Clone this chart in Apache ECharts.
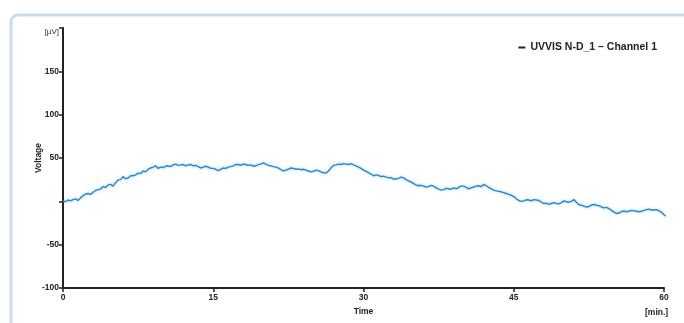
<!DOCTYPE html>
<html>
<head>
<meta charset="utf-8">
<script src="https://cdn.jsdelivr.net/npm/echarts@6/dist/echarts.min.js"></script>
<style>
html,body{margin:0;padding:0;background:#fff;}
#c{width:684px;height:323px;}
</style>
</head>
<body>
<div id="c"></div>
<script>
var seriesName = 'UVVIS N-D_1 \u2013 Channel 1';
var timeMin = [0,0.25,0.5,0.75,1,1.25,1.5,1.75,2,2.25,2.5,2.75,3,3.25,3.5,3.75,4,4.25,4.5,4.75,5,5.25,5.5,5.75,6,6.25,6.5,6.75,7,7.25,7.5,7.75,8,8.25,8.5,8.75,9,9.25,9.5,9.75,10,10.25,10.5,10.75,11,11.25,11.5,11.75,12,12.25,12.5,12.75,13,13.25,13.5,13.75,14,14.25,14.5,14.75,15,15.25,15.5,15.75,16,16.25,16.5,16.75,17,17.25,17.5,17.75,18,18.25,18.5,18.75,19,19.25,19.5,19.75,20,20.25,20.5,20.75,21,21.25,21.5,21.75,22,22.25,22.5,22.75,23,23.25,23.5,23.75,24,24.25,24.5,24.75,25,25.25,25.5,25.75,26,26.25,26.5,26.75,27,27.25,27.5,27.75,28,28.25,28.5,28.75,29,29.25,29.5,29.75,30,30.25,30.5,30.75,31,31.25,31.5,31.75,32,32.25,32.5,32.75,33,33.25,33.5,33.75,34,34.25,34.5,34.75,35,35.25,35.5,35.75,36,36.25,36.5,36.75,37,37.25,37.5,37.75,38,38.25,38.5,38.75,39,39.25,39.5,39.75,40,40.25,40.5,40.75,41,41.25,41.5,41.75,42,42.25,42.5,42.75,43,43.25,43.5,43.75,44,44.25,44.5,44.75,45,45.25,45.5,45.75,46,46.25,46.5,46.75,47,47.25,47.5,47.75,48,48.25,48.5,48.75,49,49.25,49.5,49.75,50,50.25,50.5,50.75,51,51.25,51.5,51.75,52,52.25,52.5,52.75,53,53.25,53.5,53.75,54,54.25,54.5,54.75,55,55.25,55.5,55.75,56,56.25,56.5,56.75,57,57.25,57.5,57.75,58,58.25,58.5,58.75,59,59.25,59.5,59.75,60,60.2];
var voltage = [0.5,-0.5,1.5,0.5,2.0,2.8,1.0,4.0,6.5,8.5,9.0,8.0,10.5,12.5,13.5,14.0,17.0,16.0,19.0,19.5,17.5,21.5,24.5,25.0,28.5,26.0,27.0,29.5,29.5,30.5,32.5,32.0,35.0,34.0,37.0,38.5,39.5,41.0,38.0,39.5,39.0,40.5,41.0,40.0,42.0,43.0,41.5,42.0,42.5,41.0,42.0,42.5,41.0,41.5,40.0,38.5,39.5,40.5,39.5,38.0,38.0,37.0,35.5,37.0,38.5,38.0,39.5,40.0,41.0,42.5,42.5,41.5,43.0,42.5,41.5,42.0,40.5,41.0,42.5,43.0,44.5,43.0,41.5,41.0,40.0,39.5,38.5,36.5,35.0,36.0,37.0,38.5,38.0,37.0,37.5,36.5,37.0,36.0,35.0,34.0,34.5,36.0,35.5,34.0,33.0,32.5,35.0,38.5,41.5,42.0,43.0,42.5,43.5,43.0,42.5,43.5,42.0,41.0,39.5,38.0,36.0,34.5,33.0,31.5,29.5,30.5,30.0,28.5,29.0,28.0,27.0,27.5,25.5,26.0,26.5,28.0,27.0,25.0,23.5,22.5,20.5,19.0,18.0,18.5,17.5,16.5,17.0,18.5,17.5,15.5,14.0,13.0,13.5,15.0,14.5,14.0,15.5,14.5,16.0,17.5,17.5,16.0,14.5,15.5,16.5,17.5,18.0,17.0,19.5,18.0,16.0,14.5,13.0,12.0,11.5,11.0,10.0,9.0,8.0,7.0,5.5,3.0,1.0,0.0,0.5,1.8,1.5,0.5,2.0,1.5,1.0,-1.0,-2.5,-2.0,-3.5,-2.5,-1.5,-2.5,-3.0,-1.5,0.5,-0.5,-1.0,0.0,2.0,-1.0,-4.0,-4.5,-5.5,-6.5,-6.0,-4.5,-3.5,-4.5,-5.0,-6.5,-7.5,-7.0,-8.5,-10.5,-12.5,-14.0,-13.5,-12.0,-11.0,-12.0,-11.5,-10.5,-11.0,-11.5,-12.0,-11.5,-10.5,-9.5,-9.0,-10.0,-10.0,-9.5,-11.0,-12.5,-15.5,-17.0];
var xTicks = [0,15,30,45,60];
var yTicks = [-100,-50,0,50,100,150,200];
var yUnit = '[\u00b5V]';
var xUnit = '[min.]';
var yTitle = 'Voltage';
var xTitle = 'Time';

var data = timeMin.map(function(t,i){return [t, voltage[i]];});
var chart = echarts.init(document.getElementById('c'));
var FF = 'Liberation Sans, Arial, sans-serif';
var lblFont = {fontFamily:FF, fontSize:8.5, fontWeight:'bold', color:'#222'};
chart.setOption({
  animation:false,
  graphic:[
    {type:'rect', z:-10, shape:{x:11,y:15,width:720,height:400,r:7}, style:{fill:'#fff', stroke:'#cadcea', lineWidth:3}},
    {type:'text', left:645, top:308, style:{text:xUnit, font:'bold 8.5px Liberation Sans, Arial, sans-serif', fill:'#222'}}
  ],
  legend:{
    right:22, top:37, itemWidth:7, itemHeight:2, itemGap:3,
    icon:'rect',
    textStyle:{fontFamily:FF, fontSize:10.5, fontWeight:'bold', color:'#222'},
    data:[{name:seriesName, itemStyle:{color:'#222'}}]
  },
  grid:{left:63, right:20, top:28, bottom:35},
  xAxis:{
    type:'value', min:0, max:60, interval:15,
    name:xTitle, nameLocation:'middle', nameGap:17,
    nameTextStyle:lblFont,
    axisLine:{show:true, onZero:false, lineStyle:{color:'#222', width:2}},
    axisTick:{show:true, length:4, lineStyle:{color:'#222', width:1.5}},
    axisLabel:Object.assign({margin:5}, lblFont),
    splitLine:{show:false}
  },
  yAxis:{
    type:'value', min:-100, max:200, interval:50,
    name:yTitle, nameLocation:'middle', nameGap:20, nameRotate:90, nameMoveOverlap:false,
    nameTextStyle:lblFont,
    axisLine:{show:true, onZero:false, lineStyle:{color:'#222', width:2}},
    axisTick:{show:true, length:4, lineStyle:{color:'#222', width:1.5}},
    axisLabel:Object.assign({margin:4, formatter:function(v){
      if (v === 200) return '{u|' + yUnit + '}';
      if (v === 0) return '';
      return String(v);
    }, rich:{u:{fontFamily:FF, fontSize:8, fontWeight:'normal', color:'#333', padding:[8,0,0,0]}}}, lblFont),
    splitLine:{show:false}
  },
  series:[{
    name:seriesName, type:'line', data:data, showSymbol:false, symbol:'none',
    lineStyle:{color:'#2a88cc', width:1.4, shadowColor:'rgba(90,175,235,0.6)', shadowBlur:3},
    itemStyle:{color:'#2a88cc'}
  }]
});
</script>
</body>
</html>
